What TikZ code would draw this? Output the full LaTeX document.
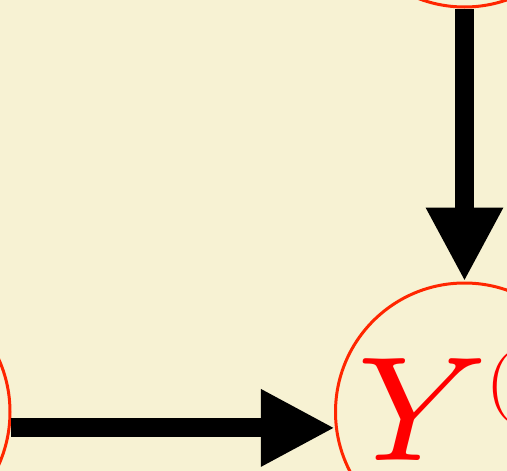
\documentclass[tikz,border=0pt]{standalone}
\usepackage{graphicx}
\usetikzlibrary{arrows.meta}
\definecolor{paper}{RGB}{247,242,211}
\definecolor{ring}{RGB}{255,38,0}
\definecolor{varred}{RGB}{255,0,0}
\tikzset{
  var/.style={circle, draw=ring, line width=3pt, minimum size=258pt, inner sep=0pt},
  arr/.style={line width=19pt, -{Triangle[length=74pt,width=72pt]}},
  lab/.style={anchor=base west, text=varred, inner sep=0pt},
}
\begin{document}
\begin{tikzpicture}[x=1pt,y=-1pt]
  \useasboundingbox (0,0) rectangle (507,471);
  \fill[paper] (0,0) rectangle (507,471);
  \clip (0,0) rectangle (507,471);
  % variables
  \node[var] (T) at (464.5,-122) {};
  \node[var] (L) at (-119,412) {};
  \node[var] (Y) at (464.5,412) {};
  % label of Y: the letter and the opening of its superscript
  \node[lab] (Ylab) at (354,460) {\scalebox{21.3}{$\scriptstyle Y$}};
  \node[lab] (Ysup) at (486,404) {\scalebox{6.8}{(}};
  % edges
  \draw[arr] (T.south) -- (Y.north);
  \draw[arr] (L.-7.6) -- (Y.187.6);
\end{tikzpicture}
\end{document}
